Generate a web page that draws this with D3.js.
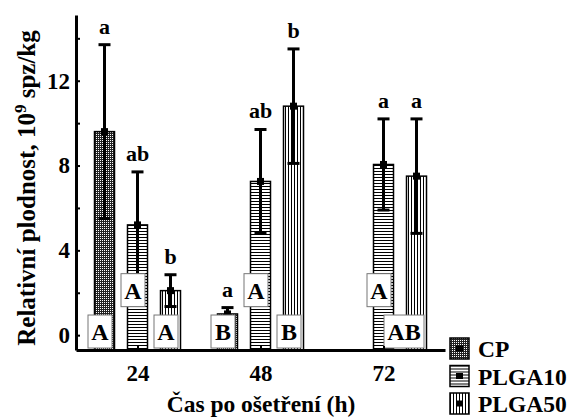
<!DOCTYPE html>
<html>
<head>
<meta charset="utf-8">
<script src="https://cdn.jsdelivr.net/npm/d3@7"></script>
<style>
  body { margin: 0; background: #fff; }
  text { font-family: "Liberation Serif", "Times New Roman", serif; font-weight: bold; fill: #000; }
  pattern rect { shape-rendering: crispEdges; }
</style>
</head>
<body>
<div id="chart"></div>
<script>
var width = 568;
var height = 419;

// data
var times = [24, 48, 72];
var series = ["CP", "PLGA10", "PLGA50"];
var cpMean = [9.6, 1.0, null];
var cpErr = [4.1, 0.3, null];
var plga10Mean = [5.2, 7.25, 8.05];
var plga10Err = [2.5, 2.45, 2.15];
var plga50Mean = [2.1, 10.8, 7.5];
var plga50Err = [0.75, 2.7, 2.7];
var cpLower = ["a", "a", ""];
var plga10Lower = ["ab", "ab", "a"];
var plga50Lower = ["b", "b", "a"];
var cpUpper = ["A", "B", ""];
var plga10Upper = ["A", "A", "A"];
var plga50Upper = ["A", "B", "AB"];
var yTicks = [0, 4, 8, 12];
var yMinor = [2, 6, 10, 14];

var means = [cpMean, plga10Mean, plga50Mean];
var errs = [cpErr, plga10Err, plga50Err];
var lowers = [cpLower, plga10Lower, plga50Lower];
var uppers = [cpUpper, plga10Upper, plga50Upper];

var rows = [];
series.forEach(function(s, si) {
    times.forEach(function(t, ti) {
        if (means[si][ti] == null) return;
        rows.push({ series: s, si: si, time: t, mean: means[si][ti], err: errs[si][ti],
                    lower: lowers[si][ti], upper: uppers[si][ti] });
    });
});

var svg = d3.select("#chart").append("svg")
    .attr("width", width)
    .attr("height", height);

// patterns
var defs = svg.append("defs");
var pCP = defs.append("pattern").attr("id", "pat-CP")
    .attr("patternUnits", "userSpaceOnUse").attr("width", 2).attr("height", 2);
pCP.append("rect").attr("width", 2).attr("height", 2).attr("fill", "#222");
pCP.append("rect").attr("width", 1).attr("height", 1).attr("fill", "#fff");

var pH = defs.append("pattern").attr("id", "pat-PLGA10")
    .attr("patternUnits", "userSpaceOnUse").attr("width", 4).attr("height", 3);
pH.append("rect").attr("width", 4).attr("height", 3).attr("fill", "#fff");
pH.append("rect").attr("width", 4).attr("height", 1).attr("fill", "#000");

var pV = defs.append("pattern").attr("id", "pat-PLGA50")
    .attr("patternUnits", "userSpaceOnUse").attr("width", 3).attr("height", 4);
pV.append("rect").attr("width", 3).attr("height", 4).attr("fill", "#fff");
pV.append("rect").attr("width", 1).attr("height", 4).attr("fill", "#000");

// scales
var x = d3.scaleLinear().domain([12, 84]).range([76, 445]);
var xSub = d3.scalePoint().domain(series).range([-33, 33]);
var y = d3.scaleLinear().domain([-0.7, 15.1]).range([350, 15]);
var barW = 20;

function cx(d) { return x(d.time) + xSub(d.series); }

// bars
svg.append("g").selectAll("rect")
    .data(rows).enter().append("rect")
    .attr("x", function(d) { return cx(d) - barW / 2; })
    .attr("y", function(d) { return y(d.mean); })
    .attr("width", barW)
    .attr("height", function(d) { return y.range()[0] - y(d.mean); })
    .attr("fill", function(d) { return "url(#pat-" + d.series + ")"; })
    .attr("stroke", "#000")
    .attr("stroke-width", 1.5);

// error bars
var eb = svg.append("g").selectAll("g").data(rows).enter().append("g");
eb.append("line")
    .attr("x1", cx).attr("x2", cx)
    .attr("y1", function(d) { return y(d.mean + d.err); })
    .attr("y2", function(d) { return y(d.mean - d.err); })
    .attr("stroke", "#000").attr("stroke-width", 3);
eb.append("line")
    .attr("x1", function(d) { return cx(d) - 6; }).attr("x2", function(d) { return cx(d) + 6; })
    .attr("y1", function(d) { return y(d.mean + d.err); })
    .attr("y2", function(d) { return y(d.mean + d.err); })
    .attr("stroke", "#000").attr("stroke-width", 3);
eb.append("line")
    .attr("x1", function(d) { return cx(d) - 6; }).attr("x2", function(d) { return cx(d) + 6; })
    .attr("y1", function(d) { return y(d.mean - d.err); })
    .attr("y2", function(d) { return y(d.mean - d.err); })
    .attr("stroke", "#000").attr("stroke-width", 3);
eb.append("rect")
    .attr("x", function(d) { return cx(d) - 3.5; })
    .attr("y", function(d) { return y(d.mean) - 3.5; })
    .attr("width", 7).attr("height", 7)
    .attr("fill", "#000");

// lowercase letters above error bars
svg.append("g").selectAll("text").data(rows).enter().append("text")
    .attr("x", cx)
    .attr("y", function(d) { return y(d.mean + d.err) - 11; })
    .attr("text-anchor", "middle")
    .style("font-size", "22px")
    .text(function(d) { return d.lower; });

// uppercase letters in boxes
var bx = svg.append("g").selectAll("g").data(rows).enter().append("g")
    .attr("transform", function(d) {
        var w = 8 + 16 * d.upper.length;
        var top = d.series == "PLGA10" ? y(2.9) : y(0.95);
        return "translate(" + (cx(d) + 7.5 - w) + "," + top + ")";
    });
bx.append("rect")
    .attr("width", function(d) { return 8 + 16 * d.upper.length; })
    .attr("height", 33)
    .attr("fill", "#fff")
    .attr("stroke", "#777")
    .attr("stroke-width", 1);
bx.append("text")
    .attr("x", function(d) { return (8 + 16 * d.upper.length) / 2; })
    .attr("y", 25)
    .attr("text-anchor", "middle")
    .style("font-size", "24px")
    .text(function(d) { return d.upper; });

// axes
var xAxis = svg.append("g")
    .attr("transform", "translate(0," + y.range()[0] + ")")
    .call(d3.axisBottom(x).tickValues(times).tickSizeInner(-4).tickSizeOuter(0).tickPadding(15));
var yAxis = svg.append("g")
    .attr("transform", "translate(" + x.range()[0] + ",0)")
    .call(d3.axisLeft(y).tickValues(yTicks).tickSizeInner(-4).tickSizeOuter(0).tickPadding(6));
var yAxisMinor = svg.append("g")
    .attr("transform", "translate(" + x.range()[0] + ",0)")
    .call(d3.axisLeft(y).tickValues(yMinor).tickSizeInner(-4).tickSizeOuter(0).tickFormat(""));

[xAxis, yAxis, yAxisMinor].forEach(function(a) {
    a.select(".domain").attr("stroke-width", 3);
    a.selectAll(".tick line").attr("stroke-width", 2);
    a.selectAll(".tick text")
        .style("font-family", "'Liberation Serif', serif")
        .style("font-weight", "bold")
        .style("font-size", "23px");
});
yAxisMinor.select(".domain").remove();

// axis titles
svg.append("text")
    .attr("x", 261)
    .attr("y", 412)
    .attr("text-anchor", "middle")
    .style("font-size", "23.5px")
    .text("Čas po ošetření (h)");

var yt = svg.append("text")
    .attr("transform", "translate(35,188) rotate(-90)")
    .attr("text-anchor", "middle")
    .style("font-size", "25px");
yt.append("tspan").text("Relativní plodnost, 10");
yt.append("tspan").attr("dy", -9).style("font-size", "17px").text("9");
yt.append("tspan").attr("dy", 9).text(" spz/kg");

// legend
var lg = svg.append("g").selectAll("g").data(series).enter().append("g")
    .attr("transform", function(d, i) { return "translate(450," + (338 + i * 27.5) + ")"; });
lg.append("rect")
    .attr("width", 19).attr("height", 21)
    .attr("fill", function(d) { return "url(#pat-" + d + ")"; })
    .attr("stroke", "#000").attr("stroke-width", 1.5);
lg.append("rect")
    .attr("x", 6).attr("y", 7.5).attr("width", 7).attr("height", 6)
    .attr("fill", "#000");
lg.append("text")
    .attr("x", 28).attr("y", 19)
    .style("font-size", "23.5px")
    .text(function(d) { return d; });
</script>
</body>
</html>
